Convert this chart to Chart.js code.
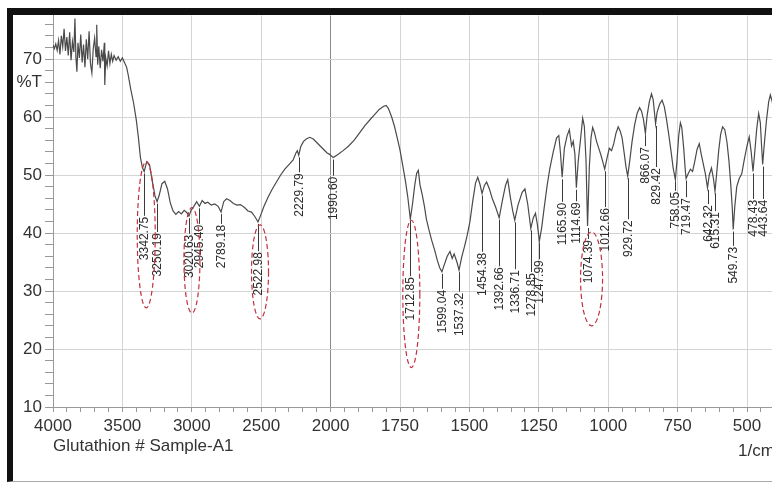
<!DOCTYPE html>
<html>
<head>
<meta charset="utf-8">
<script src="https://cdn.jsdelivr.net/npm/chart.js@4.4.1/dist/chart.umd.min.js"></script>
<style>
  html, body { margin: 0; padding: 0; background: #fff; overflow: hidden; }
  #frame {
    position: absolute; left: 7px; top: 8px; width: 900px; height: 466px;
    border-left: 6px solid #111; border-top: 7px solid #111; border-bottom: 1px solid #aaa;
  }
  #spectrum { position: absolute; left: 0; top: 0; }
</style>
</head>
<body>
<div id="frame"></div>
<canvas id="spectrum" width="772" height="483"></canvas>
<script>
// wavenumber (1/cm) and %T
const wavenumbers = [
  4000, 3990, 3980, 3970, 3960, 3950, 3940, 3930, 3920, 3910,
  3900, 3890, 3880, 3870, 3860, 3850, 3842, 3835, 3828, 3820,
  3810, 3800, 3790, 3780, 3770, 3760, 3750, 3740, 3730, 3720,
  3710, 3700, 3690, 3685, 3678, 3670, 3660, 3650, 3640, 3630,
  3627, 3620, 3610, 3600, 3590, 3580, 3570, 3560, 3545, 3530,
  3515, 3500, 3485, 3470, 3460, 3440, 3420, 3400, 3385, 3370,
  3355, 3342.75, 3325, 3305, 3285, 3265, 3250.19, 3235, 3215, 3195,
  3175, 3155, 3135, 3115, 3095, 3075, 3055, 3035, 3020.63, 3005,
  2985, 2965, 2945.40, 2925, 2905, 2885, 2860, 2835, 2810, 2789.18,
  2770, 2750, 2725, 2700, 2675, 2650, 2620, 2595, 2570, 2545,
  2522.98, 2505, 2480, 2450, 2420, 2390, 2360, 2330, 2300, 2270,
  2250, 2240, 2229.79, 2215, 2195, 2175, 2150, 2125, 2100, 2075,
  2050, 2025, 2010, 2000, 1990.60, 1975, 1955, 1935, 1915, 1895,
  1875, 1855, 1840, 1825, 1810, 1800, 1792, 1780, 1770, 1760,
  1750, 1740, 1730, 1722, 1712.85, 1705, 1697, 1690, 1684, 1678,
  1670, 1662, 1655, 1645, 1635, 1625, 1615, 1607, 1599.04, 1590,
  1580, 1570, 1562, 1555, 1545, 1537.32, 1528, 1518, 1508, 1498,
  1488, 1478, 1470, 1462, 1454.38, 1446, 1438, 1428, 1418, 1405,
  1392.66, 1382, 1370, 1362, 1352, 1344, 1336.71, 1325, 1310, 1300,
  1290, 1278.85, 1270, 1262, 1255, 1247.99, 1240, 1230, 1220, 1210,
  1198, 1186, 1178, 1172, 1165.90, 1158, 1148, 1140, 1132, 1126,
  1120, 1114.69, 1108, 1100, 1092, 1086, 1080, 1074.39, 1068, 1062,
  1056, 1050, 1042, 1034, 1026, 1018, 1012.66, 1004, 996, 988,
  980, 972, 964, 957, 950, 943, 936, 929.72, 922, 914,
  905, 896, 887, 880, 873, 866.07, 860, 852, 844, 838,
  833, 829.42, 824, 815, 806, 798, 790, 782, 774, 766,
  758.05, 752, 746, 740, 735, 728, 722, 719.47, 712, 704,
  696, 688, 680, 672, 665, 658, 650, 642.32, 636, 628,
  621, 615.31, 609, 602, 595, 588, 580, 572, 565, 558,
  553, 549.73, 544, 537, 528, 519, 510, 500, 492, 485,
  478.43, 472, 465, 458, 452, 448, 443.64, 438, 430, 422,
  416, 410, 404
];
const transmittance = [
  72.4, 71.8, 72.6, 71.5, 73.2, 70.8, 74.0, 72.1, 75.2, 71.4,
  73.8, 70.6, 74.6, 69.8, 73.0, 71.2, 77.0, 70.4, 67.8, 72.8,
  70.2, 74.2, 69.4, 72.5, 68.6, 73.4, 70.0, 74.8, 69.2, 67.6,
  71.8, 73.6, 70.4, 75.9, 69.0, 72.2, 68.4, 71.6, 69.6, 72.8,
  65.5, 70.2, 68.8, 71.4, 69.2, 70.8, 69.6, 70.6, 69.8, 70.4,
  69.6, 70.2, 69.4, 68.6, 67.5, 64.8, 62.5, 59.5, 56.5, 53.0,
  51.2, 50.6, 52.3, 51.8, 49.0, 46.4, 45.4, 46.5, 48.5, 48.9,
  47.6, 45.2, 43.8, 43.2, 43.7, 43.3, 43.9, 43.5, 42.9, 43.9,
  44.6, 45.4, 44.6, 45.6, 45.1, 45.3, 44.8, 45.0, 44.6, 43.6,
  45.4, 45.9, 45.6, 45.1, 44.8, 44.9, 44.4, 43.8, 43.6, 42.8,
  41.9, 43.0, 44.6, 46.2, 47.6, 48.8, 50.0, 51.0, 51.8, 52.6,
  53.8, 54.2, 53.4, 54.9, 55.8, 56.2, 56.5, 56.2, 55.6, 55.0,
  54.4, 53.8, 53.6, 53.4, 53.0, 53.5, 54.2, 55.0, 56.0, 57.3,
  58.6, 59.7, 60.5, 61.3, 61.8, 62.0, 61.5, 60.0, 58.4, 56.4,
  54.3, 51.6, 48.8, 46.2, 42.4, 45.0, 48.2, 50.3, 50.8, 48.3,
  46.6, 44.6, 42.4, 40.4, 38.6, 37.0, 35.2, 34.0, 33.3, 34.6,
  36.0, 36.8, 35.6, 36.4, 35.0, 33.6, 35.8, 37.6, 39.6, 42.0,
  45.5, 48.6, 49.6, 48.4, 46.8, 48.2, 48.8, 47.6, 46.0, 44.4,
  42.6, 45.4, 48.2, 49.2, 46.0, 43.8, 42.2, 44.8, 47.0, 47.6,
  45.0, 40.8, 42.6, 43.4, 41.4, 38.6, 40.8, 44.6, 48.2, 51.2,
  54.0, 56.4, 56.8, 53.8, 49.6, 54.6, 56.8, 57.8, 55.0, 55.8,
  53.6, 47.8, 52.4, 56.0, 59.8, 58.4, 52.6, 41.2, 51.4, 56.4,
  58.2, 57.4, 55.8, 54.6, 53.4, 52.0, 51.0, 53.0, 54.6, 54.2,
  55.4, 57.2, 58.3, 57.6, 56.4, 54.0, 51.4, 49.8, 52.6, 55.8,
  58.6, 60.6, 61.6, 61.0, 59.6, 57.2, 60.2, 62.6, 64.0, 63.0,
  60.6, 58.8, 60.8, 62.2, 62.9, 61.8, 59.6, 57.0, 54.2, 51.2,
  49.2, 52.6, 56.8, 59.0, 58.2, 54.6, 50.6, 49.4, 50.2, 51.0,
  50.6, 52.4, 54.4, 55.4, 53.6, 52.0, 50.2, 47.8, 50.0, 51.2,
  49.4, 47.2, 50.4, 54.2, 57.0, 58.3, 57.8, 55.6, 52.4, 48.0,
  44.2, 40.6, 44.6, 48.0, 49.4, 50.2, 52.6, 55.0, 56.6, 54.0,
  50.6, 54.0, 58.0, 60.6, 59.0, 55.4, 51.8, 55.2, 59.4, 62.6,
  63.8, 62.8, 61.5
];

// labelled peaks
const peakWavenumbers = [
  3342.75, 3250.19, 3020.63, 2945.40, 2789.18, 2522.98, 2229.79, 1990.60,
  1712.85, 1599.04, 1537.32, 1454.38, 1392.66, 1336.71, 1278.85, 1247.99,
  1165.90, 1114.69, 1074.39, 1012.66, 929.72, 866.07, 829.42, 758.05,
  719.47, 642.32, 615.31, 549.73, 478.43, 443.64
];
const circledPeaks = [3342.75, 3020.63, 2522.98, 1712.85, 1074.39];

const xMajorTicks = [4000, 3500, 3000, 2500, 2000, 1750, 1500, 1250, 1000, 750, 500];
const yMajorTicks = [10, 20, 30, 40, 50, 60, 70];
const yUnitTickValue = 66;

// annotation layout: %T where each peak's printed number starts
const peakLabelTop = [
  42.8, 40.0, 39.7, 41.4, 41.4, 36.7, 50.3, 49.7,
  32.4, 30.2, 29.7, 36.6, 34.1, 33.6, 33.1, 35.3,
  45.2, 45.3, 38.8, 44.3, 42.2, 54.8, 51.2, 47.1,
  46.0, 44.8, 43.6, 37.6, 45.7, 45.7
];
// ellipse around a circled label: centre %T, half height in %T, half width px, x shift px
const circleShapes = [
  { t: 39.7, dt: 12.6, rx: 9, dx: 2 },
  { t: 35.3, dt: 9.1, rx: 8, dx: 3 },
  { t: 33.3, dt: 8.1, rx: 8.5, dx: 2 },
  { t: 29.5, dt: 12.7, rx: 8.5, dx: 1 },
  { t: 32.1, dt: 8.1, rx: 11, dx: 4 }
];

// minor ticks: every 100 above 2000, every 50 below
const xTickValues = [];
for (let w = 4000; w >= 2000; w -= 100) xTickValues.push(w);
for (let w = 1950; w >= 450; w -= 50) xTickValues.push(w);
const yTickValues = [];
for (let v = 10; v <= 76; v += 2) yTickValues.push(v);

// the printout doubles the scale below 2000 1/cm
function scalePos(w) { return w >= 2000 ? 4000 - w : 2000 + (2000 - w) * 2; }
function posToWn(p) { return p <= 2000 ? 4000 - p : 2000 - (p - 2000) / 2; }

class IrAxis extends Chart.LinearScale {
  getPixelForValue(value) {
    const a = scalePos(this.max), b = scalePos(this.min);
    return this.getPixelForDecimal((scalePos(value) - a) / (b - a));
  }
  getValueForPixel(pixel) {
    const a = scalePos(this.max), b = scalePos(this.min);
    return posToWn(a + this.getDecimalForPixel(pixel) * (b - a));
  }
}
IrAxis.id = 'irAxis';
IrAxis.defaults = Chart.LinearScale.defaults;
Chart.register(IrAxis);

const fontFamily = '"Liberation Sans", Arial, sans-serif';

const peakAnnotations = {
  id: 'peakAnnotations',
  afterDatasetsDraw(chart) {
    const { ctx, scales: { x, y }, chartArea } = chart;
    ctx.save();
    ctx.font = '12px ' + fontFamily;
    peakWavenumbers.forEach((w, i) => {
      const px = Math.round(x.getPixelForValue(w)) + 0.5;
      const yDip = y.getPixelForValue(transmittance[wavenumbers.indexOf(w)]);
      const yText = y.getPixelForValue(peakLabelTop[i]);
      ctx.strokeStyle = '#3a3a3a';
      ctx.lineWidth = 1;
      ctx.beginPath();
      ctx.moveTo(px, yDip + 2);
      ctx.lineTo(px, yText - 1);
      ctx.stroke();
      ctx.save();
      ctx.translate(px, yText);
      ctx.rotate(-Math.PI / 2);
      ctx.fillStyle = '#2b2b2b';
      ctx.textAlign = 'right';
      ctx.textBaseline = 'middle';
      ctx.fillText(w.toFixed(2), 0, 0);
      ctx.restore();
    });

    ctx.strokeStyle = '#c3303f';
    ctx.lineWidth = 1.2;
    ctx.setLineDash([5, 3]);
    circledPeaks.forEach((w, i) => {
      const s = circleShapes[i];
      const cx = x.getPixelForValue(w) + s.dx;
      const cy = y.getPixelForValue(s.t);
      const ry = y.getPixelForValue(s.t - s.dt) - cy;
      ctx.beginPath();
      ctx.ellipse(cx, cy, s.rx, ry, 0, 0, Math.PI * 2);
      ctx.stroke();
    });
    ctx.setLineDash([]);

    ctx.fillStyle = '#333';
    ctx.font = '17px ' + fontFamily;
    ctx.textBaseline = 'middle';
    ctx.textAlign = 'left';
    ctx.fillText('Glutathion # Sample-A1', chartArea.left, 446);
    ctx.fillText('1/cm', 738, 451);
    ctx.restore();
  }
};

new Chart(document.getElementById('spectrum').getContext('2d'), {
  type: 'line',
  data: {
    datasets: [{
      data: wavenumbers.map((w, i) => ({ x: w, y: transmittance[i] })),
      borderColor: '#4a4a4a',
      borderWidth: 1.2,
      pointRadius: 0,
      tension: 0,
      fill: false
    }]
  },
  options: {
    responsive: false,
    animation: false,
    layout: { padding: { top: 15.5, left: 0, right: 0, bottom: 0 } },
    plugins: { legend: { display: false }, tooltip: { enabled: false } },
    scales: {
      x: {
        type: 'irAxis',
        min: 410,
        max: 4000,
        afterBuildTicks: axis => { axis.ticks = xTickValues.map(v => ({ value: v })); },
        afterFit: axis => { axis.height = 76; },
        ticks: {
          autoSkip: false,
          maxRotation: 0,
          minRotation: 0,
          padding: 4,
          color: '#333',
          font: { family: fontFamily, size: 17 },
          callback: v => xMajorTicks.includes(v) ? String(v) : ''
        },
        grid: {
          color: c => c.tick && xMajorTicks.includes(c.tick.value)
            ? (c.tick.value === 2000 ? '#8a8a8a' : '#d4d4d4') : 'rgba(0,0,0,0)',
          tickColor: '#999',
          tickLength: 5
        },
        border: { color: '#999' }
      },
      y: {
        min: 10,
        max: 77.5,
        afterBuildTicks: axis => { axis.ticks = yTickValues.map(v => ({ value: v })); },
        afterFit: axis => { axis.width = 53; },
        ticks: {
          autoSkip: false,
          padding: 3,
          color: '#333',
          font: { family: fontFamily, size: 17 },
          callback: v => yMajorTicks.includes(v) ? String(v) : (v === yUnitTickValue ? '%T' : '')
        },
        grid: {
          color: c => c.tick && yMajorTicks.includes(c.tick.value) && c.tick.value > 10
            ? '#d4d4d4' : 'rgba(0,0,0,0)',
          tickColor: '#999',
          tickLength: 8
        },
        border: { color: '#999' }
      }
    }
  },
  plugins: [peakAnnotations]
});
</script>
</body>
</html>
